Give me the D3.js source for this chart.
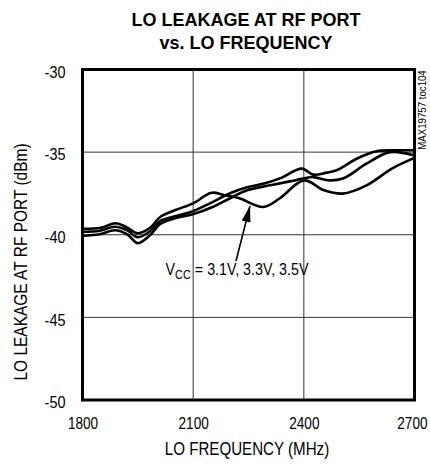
<!DOCTYPE html>
<html><head><meta charset="utf-8">
<script src="https://cdn.jsdelivr.net/npm/d3@7"></script>
<style>
html,body{margin:0;padding:0;background:#fff;}
svg{display:block;}
text{font-family:"Liberation Sans",Arial,sans-serif;fill:#000;}
</style></head>
<body>
<div id="chart"></div>
<script>
// ---- data ----
const title = ["LO LEAKAGE AT RF PORT", "vs. LO FREQUENCY"];
const xTicks = [1800, 2100, 2400, 2700];
const yTicks = [-30, -35, -40, -45, -50];
const xLabel = "LO FREQUENCY (MHz)";
const yLabel = "LO LEAKAGE AT RF PORT (dBm)";
const tocLabel = "MAX19757 toc104";

const freq1 = [1800,1850,1890,1920,1950,1985,2010,2050,2100,2150,2185,2225,2290,2335,2400,2455,2505,2570,2640,2700];
const vcc31 = [-39.64,-39.58,-39.30,-39.55,-39.91,-39.55,-38.94,-38.52,-38.10,-37.46,-37.61,-37.79,-38.32,-37.79,-36.71,-37.31,-37.51,-37.01,-35.98,-35.35];

const freq2 = [1800,1847,1888,1921,1950,1983,2010,2051,2099,2151,2200,2246,2295,2335,2395,2425,2462,2489,2543,2597,2641,2700];
const vcc33 = [-39.82,-39.76,-39.52,-39.73,-40.15,-39.79,-39.18,-38.88,-38.58,-38.04,-37.49,-37.13,-36.89,-36.59,-36.00,-36.36,-36.24,-36.10,-35.40,-34.95,-34.89,-34.89];

const freq3 = [1800,1847,1888,1921,1950,1983,2010,2051,2099,2151,2200,2246,2308,2362,2398,2425,2470,2506,2570,2633,2700];
const vcc35 = [-40.06,-39.97,-39.73,-39.97,-40.51,-40.03,-39.36,-39.00,-38.76,-38.34,-37.79,-37.31,-37.01,-36.77,-36.60,-36.51,-36.71,-36.60,-35.70,-35.00,-35.20];

const series = [
  {f: freq1, v: vcc31},
  {f: freq2, v: vcc33},
  {f: freq3, v: vcc35}
];

// ---- chart ----
const W = 430, H = 464;
const L = 82.5, R = 414.5, T = 69.5, B = 400;
const svg = d3.select("#chart").append("svg").attr("width", W).attr("height", H);

const x = d3.scaleLinear().domain([1800, 2700]).range([L, R]);
const y = d3.scaleLinear().domain([-50, -30]).range([B, T]);

// condense text horizontally (narrow-font look)
function narrow(sel, factor) {
  sel.each(function() {
    const w = this.getComputedTextLength();
    d3.select(this).attr("textLength", w * factor).attr("lengthAdjust", "spacingAndGlyphs");
  });
}

// grid
const grid = svg.append("g");
grid.selectAll("line.gx").data(xTicks.slice(1, -1)).enter().append("line")
  .attr("x1", d => x(d)).attr("x2", d => x(d)).attr("y1", T).attr("y2", B)
  .attr("stroke", "#333").attr("stroke-width", 1);
grid.selectAll("line.gy").data(yTicks.slice(1, -1)).enter().append("line")
  .attr("y1", d => y(d)).attr("y2", d => y(d)).attr("x1", L).attr("x2", R)
  .attr("stroke", "#333").attr("stroke-width", 1);

// curves
const line = d3.line().curve(d3.curveCatmullRom.alpha(0.5))
  .x(d => x(d[0])).y(d => y(d[1]));
svg.append("g").selectAll("path").data(series).enter().append("path")
  .attr("d", s => line(s.f.map((f, i) => [f, s.v[i]])))
  .attr("fill", "none").attr("stroke", "#000").attr("stroke-width", 2.6)
  .attr("stroke-linejoin", "round");

// frame
svg.append("rect").attr("x", L).attr("y", T).attr("width", R - L).attr("height", B - T)
  .attr("fill", "none").attr("stroke", "#000").attr("stroke-width", 3);

// axes (labels only, using scales)
const xAxis = d3.axisBottom(x).tickValues(xTicks).tickSize(0).tickPadding(0).tickFormat(d => String(d));
const gx = svg.append("g").attr("transform", `translate(0,${B})`).call(xAxis);
gx.select(".domain").remove();
gx.selectAll("text").attr("y", 29).attr("dy", 0).style("font-size", "17px")
  .style("font-family", '"Liberation Sans",Arial,sans-serif').attr("fill", "#000")
  .attr("transform", "scale(0.8,1)");
gx.selectAll(".tick").filter(d => d === xTicks[xTicks.length - 1]).select("text")
  .attr("text-anchor", "end").attr("x", (427 - x(xTicks[xTicks.length - 1])) / 0.8);

const yAxis = d3.axisLeft(y).tickValues(yTicks).tickSize(0).tickPadding(0).tickFormat(d => String(d));
const gy = svg.append("g").attr("transform", `translate(${L},0)`).call(yAxis);
gy.select(".domain").remove();
gy.selectAll("text").attr("x", -17).attr("dy", "0.45em").style("font-size", "17px")
  .style("font-family", '"Liberation Sans",Arial,sans-serif').attr("fill", "#000")
  .call(narrow, 0.85);

// titles
svg.append("text").attr("x", 246).attr("y", 26).attr("text-anchor", "middle")
  .style("font-weight", "bold").style("font-size", "18px").text(title[0]);
svg.append("text").attr("x", 246).attr("y", 49).attr("text-anchor", "middle")
  .style("font-weight", "bold").style("font-size", "18px").text(title[1]);

svg.append("text").attr("x", 247).attr("y", 455).attr("text-anchor", "middle")
  .style("font-size", "18px").text(xLabel).call(narrow, 0.84);

svg.append("text").attr("transform", "translate(27,262) rotate(-90)").attr("text-anchor", "middle")
  .style("font-size", "18px").text(yLabel).call(narrow, 0.86);

svg.append("text").attr("transform", "translate(426,110) rotate(-90)").attr("text-anchor", "middle")
  .style("font-size", "11.5px").text(tocLabel).call(narrow, 0.84);

// annotation (condensed via scale transform)
const ann = svg.append("g").attr("transform", "translate(237,275) scale(0.84,1)")
  .append("text").attr("x", 0).attr("y", 0).attr("text-anchor", "middle")
  .style("font-size", "17px");
ann.append("tspan").text("V");
ann.append("tspan").attr("dy", 4).style("font-size", "13px").text("CC");
ann.append("tspan").attr("dy", -4).text(" = 3.1V, 3.3V, 3.5V");

// arrow
svg.append("line").attr("x1", 236).attr("y1", 261).attr("x2", 250).attr("y2", 206)
  .attr("stroke", "#000").attr("stroke-width", 1.6);
svg.append("path")
  .attr("d", (() => {
    const tx = 250, ty = 206, ang = Math.atan2(206 - 261, 250 - 236);
    const len = 16, w = 4.5;
    const bx = tx - len * Math.cos(ang), by = ty - len * Math.sin(ang);
    const px = -Math.sin(ang) * w, py = Math.cos(ang) * w;
    return `M${tx},${ty} L${bx + px},${by + py} L${bx - px},${by - py} Z`;
  })()).attr("fill", "#000");
</script>
</body></html>
